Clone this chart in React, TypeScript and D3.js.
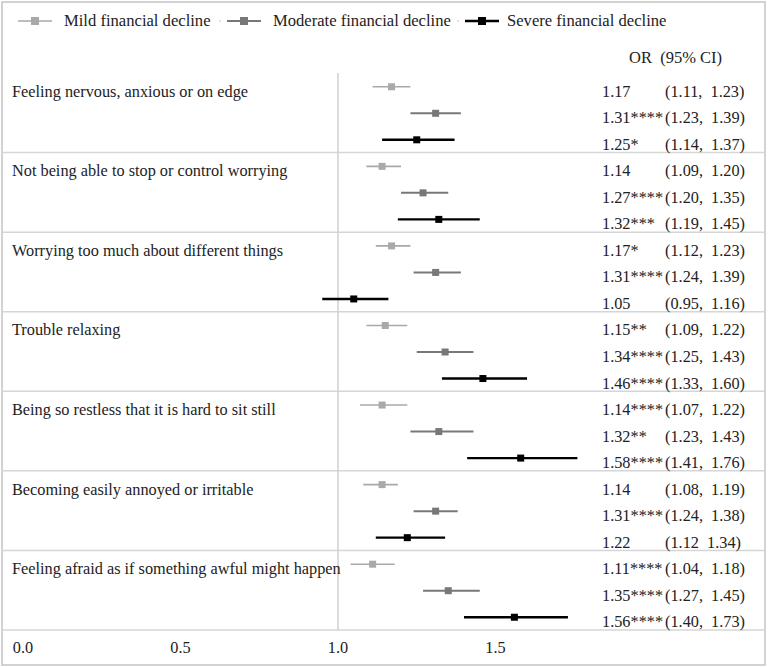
import React from "react";
import * as d3 from "d3";

const symptoms = [
  "Feeling nervous, anxious or on edge",
  "Not being able to stop or control worrying",
  "Worrying too much about different things",
  "Trouble relaxing",
  "Being so restless that it is hard to sit still",
  "Becoming easily annoyed or irritable",
  "Feeling afraid as if something awful might happen",
];

const seriesNames = ["Mild financial decline", "Moderate financial decline", "Severe financial decline"];

const mildOR = [1.17, 1.14, 1.17, 1.15, 1.14, 1.14, 1.11];
const mildLo = [1.11, 1.09, 1.12, 1.09, 1.07, 1.08, 1.04];
const mildHi = [1.23, 1.2, 1.23, 1.22, 1.22, 1.19, 1.18];
const mildSig = ["", "", "*", "**", "****", "", "****"];

const modOR = [1.31, 1.27, 1.31, 1.34, 1.32, 1.31, 1.35];
const modLo = [1.23, 1.2, 1.24, 1.25, 1.23, 1.24, 1.27];
const modHi = [1.39, 1.35, 1.39, 1.43, 1.43, 1.38, 1.45];
const modSig = ["****", "****", "****", "****", "**", "****", "****"];

const sevOR = [1.25, 1.32, 1.05, 1.46, 1.58, 1.22, 1.56];
const sevLo = [1.14, 1.19, 0.95, 1.33, 1.41, 1.12, 1.4];
const sevHi = [1.37, 1.45, 1.16, 1.6, 1.76, 1.34, 1.73];
const sevSig = ["*", "***", "", "****", "****", "", "****"];
const sevSep = [",", ",", ",", ",", ",", "", ","];

const xTicks = [0, 0.5, 1.0, 1.5];

const colors = ["#a9a9a9", "#787878", "#000000"];
const widths = [1.6, 2, 2.4];

const W = 770;
const H = 667;
const FONT = "'Liberation Serif', 'Times New Roman', 'DejaVu Serif', serif";

export default function App() {
  const x = d3.scaleLinear().domain([0, 1]).range([23, 338]);
  const top = 73;
  const bottom = 630;
  const rowIds = d3.range(symptoms.length * 3);
  const y = d3.scaleBand<number>().domain(rowIds).range([top, bottom]);
  const groupH = (bottom - top) / symptoms.length;

  const series = [
    { or: mildOR, lo: mildLo, hi: mildHi, sig: mildSig },
    { or: modOR, lo: modLo, hi: modHi, sig: modSig },
    { or: sevOR, lo: sevLo, hi: sevHi, sig: sevSig },
  ];

  const rowY = (g: number, s: number) => (y(g * 3 + s) as number) + y.bandwidth() / 2 + 0.5;

  const legendItems = [
    { lx: 18, tx: 64, dot: null as number | null },
    { lx: 227, tx: 273, dot: 220 },
    { lx: 465, tx: 507, dot: 458 },
  ];

  const textStyle = { fontFamily: FONT, whiteSpace: "pre" as const };

  return (
    <svg
      width={W}
      height={H}
      style={{ position: "absolute", left: 0, top: 0, background: "#fff", fontFamily: FONT }}
    >
      <rect x={2} y={2} width={763} height={663} fill="#fff" stroke="#c4c4c4" strokeWidth={1.5} />

      {/* legend */}
      {legendItems.map((it, i) => (
        <g key={i}>
          {it.dot !== null && <rect x={it.dot - 0.75} y={20.25} width={1.5} height={1.5} fill="#cfcfcf" />}
          <line x1={it.lx} x2={it.lx + 34} y1={21} y2={21} stroke={colors[i]} strokeWidth={widths[i]} />
          <rect x={it.lx + 17 - 4} y={17} width={8} height={8} fill={colors[i]} />
          <text x={it.tx} y={26} fontSize={16.6} fill="#222" style={textStyle}>
            {seriesNames[i]}
          </text>
        </g>
      ))}

      <text x={722} y={63} fontSize={16.5} fill="#222" textAnchor="end" style={textStyle}>
        {"OR  (95% CI)"}
      </text>

      {/* separators */}
      {d3.range(1, symptoms.length + 1).map((k) => (
        <line
          key={k}
          x1={2}
          x2={765}
          y1={top + k * groupH}
          y2={top + k * groupH}
          stroke="#d6d6d6"
          strokeWidth={1.5}
        />
      ))}

      {/* reference line */}
      <line x1={x(1)} x2={x(1)} y1={top} y2={bottom} stroke="#d0d0d0" strokeWidth={1.5} />

      {/* rows */}
      {symptoms.map((name, g) => (
        <g key={g}>
          <text x={12} y={rowY(g, 0) + 10} fontSize={16.3} fill="#222" style={textStyle}>
            {name}
          </text>
          {series.map((s, si) => {
            const yy = rowY(g, si);
            const sep = si === 2 ? sevSep[g] : ",";
            return (
              <g key={si}>
                <line
                  x1={x(s.lo[g])}
                  x2={x(s.hi[g])}
                  y1={yy}
                  y2={yy}
                  stroke={colors[si]}
                  strokeWidth={widths[si]}
                />
                <rect x={x(s.or[g]) - 3.5} y={yy - 3.5} width={7} height={7} fill={colors[si]} />
                <text x={602} y={yy + 10} fontSize={16.3} fill="#222" style={textStyle}>
                  {s.or[g].toFixed(2) + s.sig[g]}
                </text>
                <text x={665} y={yy + 10} fontSize={16.3} fill="#222" style={textStyle}>
                  {"(" + s.lo[g].toFixed(2) + sep + "  " + s.hi[g].toFixed(2) + ")"}
                </text>
              </g>
            );
          })}
        </g>
      ))}

      {/* x axis labels */}
      {xTicks.map((t) => (
        <text key={t} x={x(t)} y={653} fontSize={16.3} textAnchor="middle" fill="#222" style={textStyle}>
          {t.toFixed(1)}
        </text>
      ))}
    </svg>
  );
}
